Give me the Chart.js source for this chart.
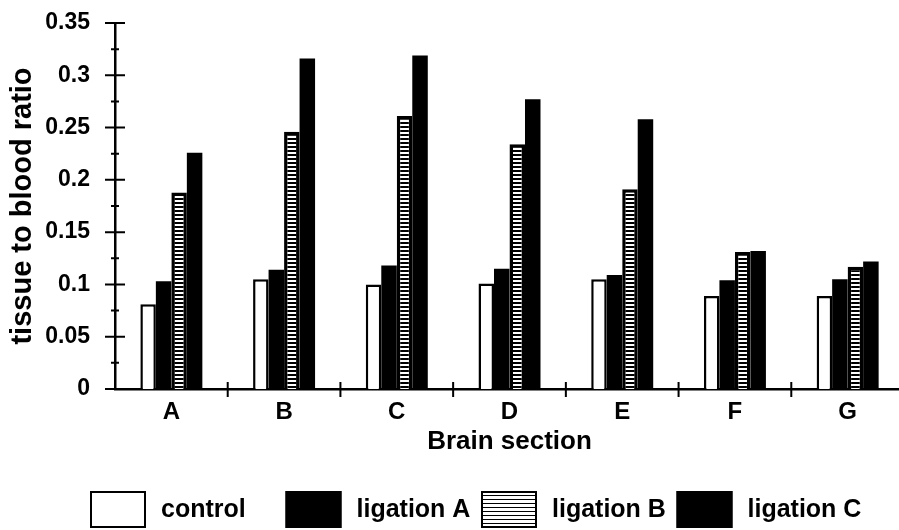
<!DOCTYPE html>
<html>
<head>
<meta charset="utf-8">
<script src="https://cdn.jsdelivr.net/npm/chart.js@4/dist/chart.umd.min.js"></script>
<style>
  html, body { margin: 0; padding: 0; background: #fff; overflow: hidden; }
  #wrap { width: 905px; height: 530px; }
</style>
</head>
<body>
<div id="wrap"><canvas id="chart" width="905" height="530"></canvas></div>
<script>
// values
var sections = ['A', 'B', 'C', 'D', 'E', 'F', 'G'];
var seriesNames = ['control', 'ligation A', 'ligation B', 'ligation C'];
var control = [0.081, 0.105, 0.100, 0.101, 0.105, 0.089, 0.089];
var ligationA = [0.103, 0.114, 0.118, 0.115, 0.109, 0.104, 0.105];
var ligationB = [0.188, 0.246, 0.261, 0.234, 0.191, 0.131, 0.117];
var ligationC = [0.226, 0.316, 0.319, 0.277, 0.258, 0.132, 0.122];
var yTickValues = [0, 0.025, 0.05, 0.075, 0.1, 0.125, 0.15, 0.175, 0.2, 0.225, 0.25, 0.275, 0.3, 0.325, 0.35];
var yTickLabels = ['0', '', '0.05', '', '0.1', '', '0.15', '', '0.2', '', '0.25', '', '0.3', '', '0.35'];

var FONT = '"Liberation Sans", Arial, sans-serif';

function makeStripes(white, black) {
    var c = document.createElement('canvas');
    c.width = 4;
    c.height = white + black;
    var g = c.getContext('2d');
    g.fillStyle = '#000';
    g.fillRect(0, 0, c.width, c.height);
    g.fillStyle = '#fff';
    g.fillRect(0, 0, c.width, white);
    return g.createPattern(c, 'repeat');
}

var barStripes = makeStripes(2, 2);
var keyStripes = makeStripes(3, 1);

// crossing tick marks on both axes
var axisTicks = {
    id: 'axisTicks',
    afterDraw: function (chart) {
        var ctx = chart.ctx, area = chart.chartArea;
        var y = chart.scales.y, x = chart.scales.x;
        ctx.save();
        ctx.strokeStyle = '#000';
        ctx.lineWidth = 2;
        ctx.beginPath();
        y.ticks.forEach(function (t, i) {
            var py = y.getPixelForValue(t.value);
            var half = yTickLabels[i] ? 10 : 4;
            ctx.moveTo(area.left - half, py);
            ctx.lineTo(area.left + half, py);
        });
        var step = x.getPixelForValue(1) - x.getPixelForValue(0);
        for (var i = 1; i <= sections.length; i++) {
            var px = x.getPixelForValue(i) - step / 2;
            ctx.moveTo(px, area.bottom - 7);
            ctx.lineTo(px, area.bottom + 8);
        }
        ctx.stroke();
        ctx.restore();
    }
};

// legend drawn in evenly spaced slots like the original
var boxLegend = {
    id: 'boxLegend',
    afterDraw: function (chart) {
        var ctx = chart.ctx;
        var fills = ['#fff', '#000', keyStripes, '#000'];
        ctx.save();
        ctx.font = 'bold 25px ' + FONT;
        ctx.textBaseline = 'middle';
        ctx.textAlign = 'left';
        chart.data.datasets.forEach(function (ds, i) {
            var bx = 90 + i * 195.5, by = 491;
            ctx.fillStyle = fills[i];
            ctx.fillRect(bx, by, 56, 37);
            ctx.strokeStyle = '#000';
            ctx.lineWidth = 2;
            ctx.strokeRect(bx + 1, by + 1, 54, 35);
            ctx.fillStyle = '#000';
            ctx.fillText(ds.label, bx + 71, by + 19);
        });
        ctx.restore();
    }
};

new Chart(document.getElementById('chart').getContext('2d'), {
    type: 'bar',
    data: {
        labels: sections,
        datasets: [
            { label: seriesNames[0], data: control, backgroundColor: '#fff', borderColor: '#000', borderWidth: 2.5 },
            { label: seriesNames[1], data: ligationA, backgroundColor: '#000', borderColor: '#000', borderWidth: 0 },
            { label: seriesNames[2], data: ligationB, backgroundColor: barStripes, borderColor: '#000', borderWidth: 3.5 },
            { label: seriesNames[3], data: ligationC, backgroundColor: '#000', borderColor: '#000', borderWidth: 0 }
        ]
    },
    options: {
        responsive: false,
        animation: false,
        devicePixelRatio: 1,
        layout: { padding: { left: 4, right: 1, top: 23, bottom: 70 } },
        datasets: { bar: { categoryPercentage: 0.55, barPercentage: 1.0, borderSkipped: 'start' } },
        plugins: {
            legend: { display: false },
            tooltip: { enabled: false }
        },
        scales: {
            x: {
                grid: { display: false, drawTicks: false },
                border: { display: true, color: '#000', width: 2.5 },
                ticks: { color: '#000', padding: 9, maxRotation: 0, font: { family: FONT, size: 24, weight: 'bold' } },
                title: {
                    display: true, text: 'Brain section', color: '#000',
                    font: { family: FONT, size: 26, weight: 'bold' },
                    padding: { top: 0, bottom: 3 }
                },
                afterFit: function (scale) { scale.height = 71; }
            },
            y: {
                min: 0,
                max: 0.35,
                grid: { display: false, drawTicks: false },
                border: { display: true, color: '#000', width: 2.5 },
                afterBuildTicks: function (scale) {
                    scale.ticks = yTickValues.map(function (v) { return { value: v }; });
                },
                ticks: {
                    color: '#000', padding: 25, autoSkip: false,
                    font: { family: FONT, size: 23, weight: 'bold' },
                    callback: function (value, index) { return yTickLabels[index]; }
                },
                title: {
                    display: true, text: 'tissue to blood ratio', color: '#000',
                    font: { family: FONT, size: 29, weight: 'bold' },
                    padding: { top: 2, bottom: 0 }
                },
                afterFit: function (scale) {
                    scale.width = 111;
                    scale.paddingTop = 0;
                    scale.paddingBottom = 0;
                }
            }
        }
    },
    plugins: [axisTicks, boxLegend]
});
</script>
</body>
</html>
